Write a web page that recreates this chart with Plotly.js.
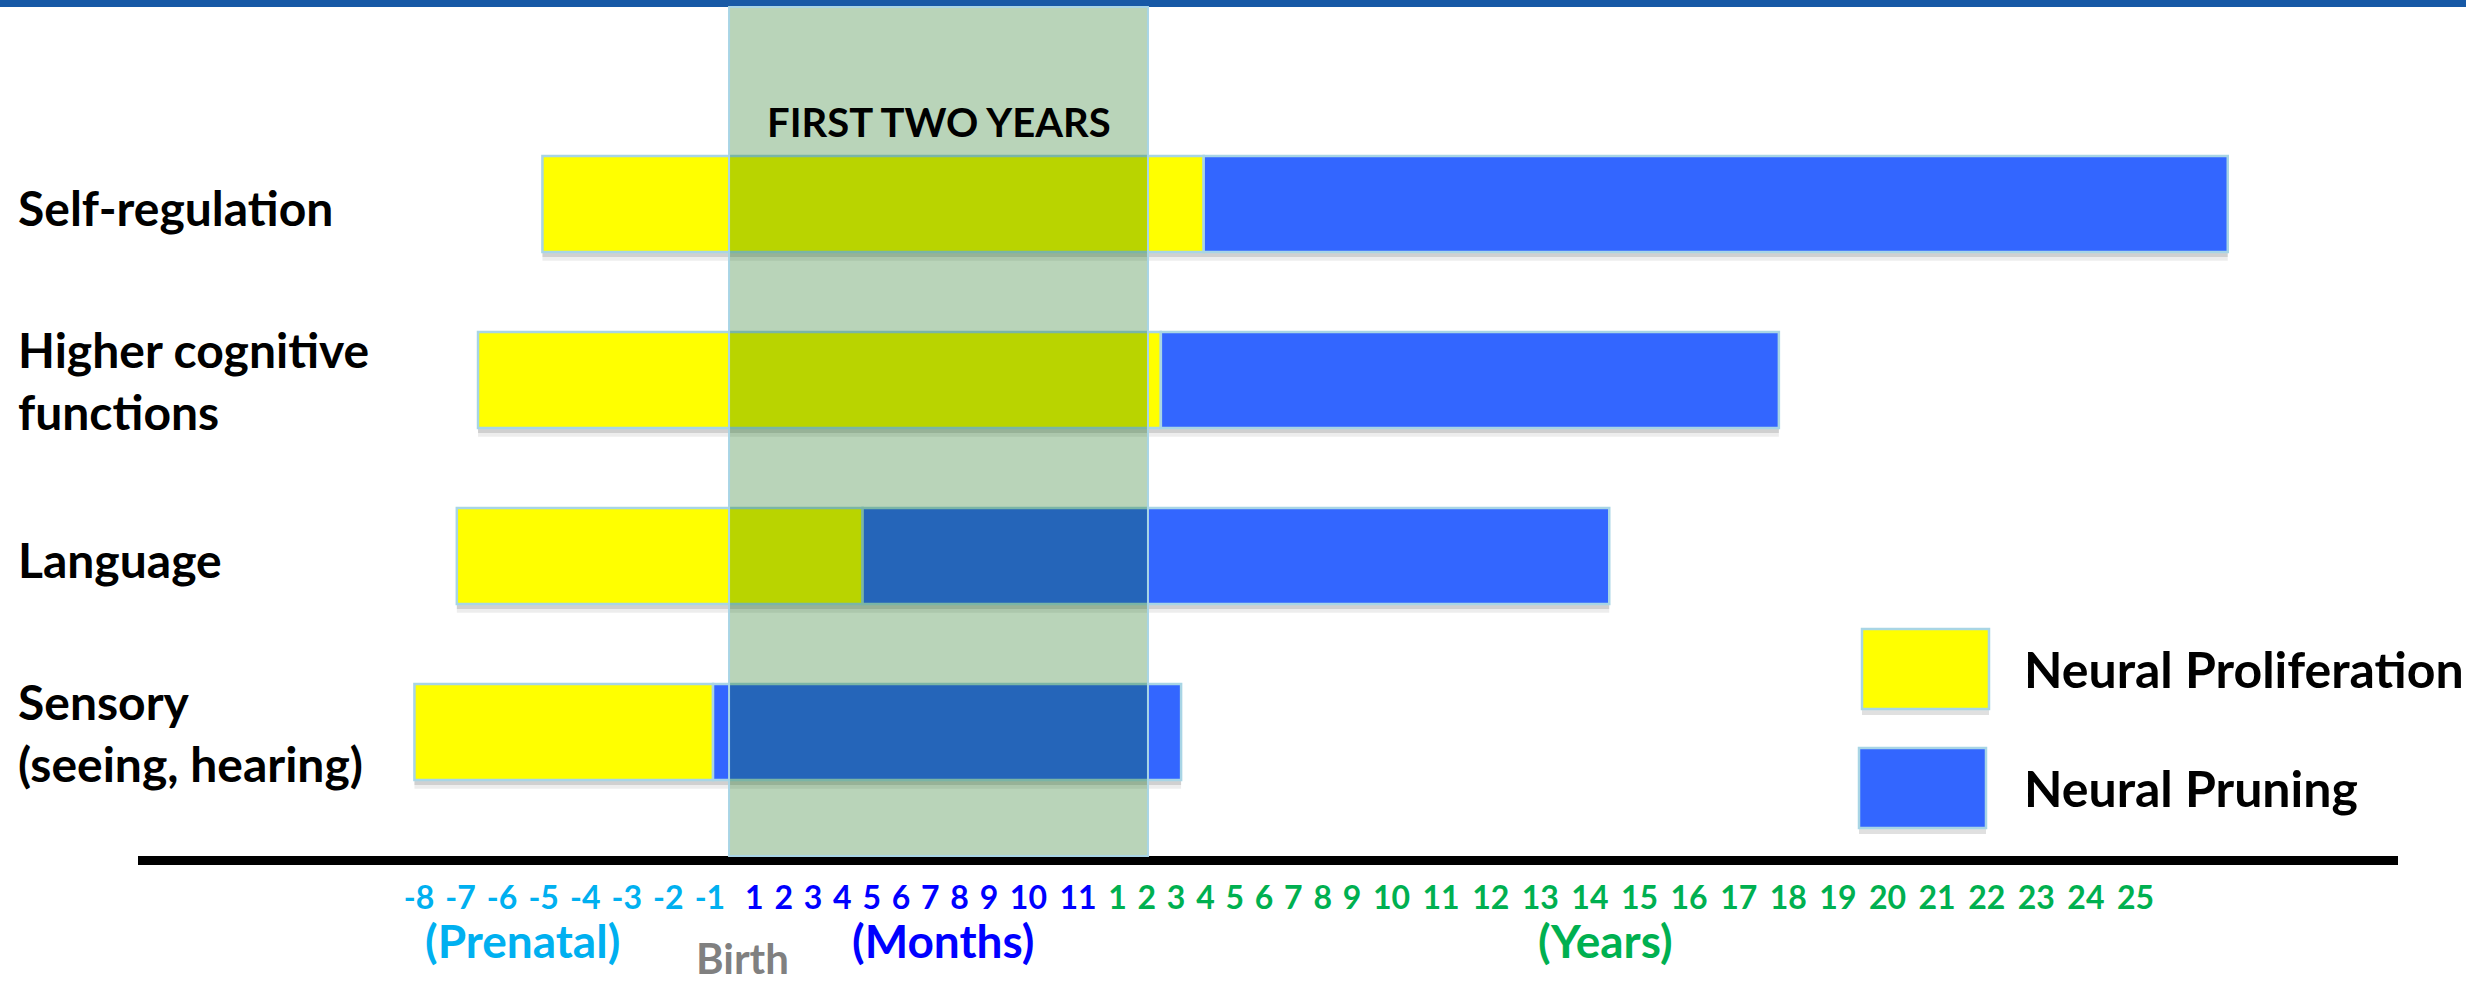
<!DOCTYPE html>
<html>
<head>
<meta charset="utf-8">
<script src="https://cdn.plot.ly/plotly-3.0.1.min.js"></script>
<style>
  html, body { margin: 0; padding: 0; background: #ffffff; }
  #chart { width: 2466px; height: 987px; }
</style>
</head>
<body>
<div id="chart"></div>
<script>
// ---------------- DATA ----------------
const prenatalTicks = ['-8', '-7', '-6', '-5', '-4', '-3', '-2', '-1'];
const monthTicks = ['1', '2', '3', '4', '5', '6', '7', '8', '9', '10', '11'];
const yearTicks = ['1', '2', '3', '4', '5', '6', '7', '8', '9', '10', '11', '12', '13',
                   '14', '15', '16', '17', '18', '19', '20', '21', '22', '23', '24', '25'];
const groupTitles = ['(Prenatal)', '(Months)', '(Years)'];
const birthLabel = 'Birth';

// bottom -> top
const categories = ['Sensory<br>(seeing, hearing)', 'Language', 'Higher cognitive<br>functions', 'Self-regulation'];
const seriesNames = ['Neural Proliferation', 'Neural Pruning'];

// Values in timeline-label units: 0 = '-8' (prenatal month), 8 = month '1', 19 = year '1', 43 = year '25'
const proliferationStart = [-0.11, 0.91, 1.42, 2.97];
const proliferationEnd   = [7.07, 11.69, 20.48, 21.94];
const pruningEnd         = [21.17, 32.39, 35.81, 44.86];
const firstTwoYears      = [7.43, 20.04];
const firstTwoYearsLabel = 'FIRST TWO YEARS';

// ---------------- STYLE ----------------
const FONT = 'Lato, "Open Sans", sans-serif';
const groupColors = ['#00B0F0', '#0000FF', '#00B050'];
const seriesColors = ['#FFFF00', '#3366FF'];
const outlineColor = '#A8D5E5';
// typesetting widths (em) used to space the tick labels like a text row
const GLYPH = { digit: 0.507, minus: 0.306, space: 0.226 };
const groupGap = [0, GLYPH.space, 0];

// ---------------- AXIS BUILD ----------------
const groups = [prenatalTicks, monthTicks, yearTicks];
const tickText = [], tickVals = [];
function labelWidth(s) { let w = 0; for (const c of s) w += (c === '-' ? GLYPH.minus : GLYPH.digit); return w; }
let u = 0, prev = null;
groups.forEach((g, gi) => {
  g.forEach((lab, li) => {
    if (prev !== null) {
      u += labelWidth(prev) / 2 + GLYPH.space + labelWidth(lab) / 2 + (li === 0 ? groupGap[gi] : 0);
    }
    tickVals.push(u);
    tickText.push('<span style="color:' + groupColors[gi] + '">' + lab + '</span>');
    prev = lab;
  });
});
const N = tickVals.length;
function toAxis(t) {
  if (t <= 0) return tickVals[0] + t * (tickVals[1] - tickVals[0]);
  if (t >= N - 1) return tickVals[N - 1] + (t - (N - 1)) * (tickVals[N - 1] - tickVals[N - 2]);
  const i = Math.floor(t), f = t - i;
  return tickVals[i] + f * (tickVals[i + 1] - tickVals[i]);
}

// ---------------- LAYOUT GEOMETRY ----------------
const W = 2466, H = 987;
const M = { l: 138, r: 68, t: 0, b: 131 };
const PW = W - M.l - M.r, PH = H - M.t - M.b;
const px2x = px => (px - M.l) / PW;
const py2y = py => (PH - (py - M.t)) / PH;
const BAR_W = 0.545;

// ---------------- TRACES ----------------
const shadowBase = proliferationStart.map(toAxis);
const shadowLen = pruningEnd.map((e, i) => toAxis(e) - toAxis(proliferationStart[i]));
const traces = [
  { type: 'bar', orientation: 'h', y: categories, base: shadowBase, x: shadowLen,
    width: BAR_W, offset: -BAR_W / 2 - 0.05, marker: { color: 'rgba(0,0,0,0.07)' },
    hoverinfo: 'skip', showlegend: false },
  { type: 'bar', orientation: 'h', y: categories, base: shadowBase, x: shadowLen,
    width: BAR_W, offset: -BAR_W / 2 - 0.028, marker: { color: 'rgba(0,0,0,0.12)' },
    hoverinfo: 'skip', showlegend: false },
  { type: 'bar', orientation: 'h', name: seriesNames[0], y: categories,
    base: proliferationStart.map(toAxis),
    x: proliferationEnd.map((e, i) => toAxis(e) - toAxis(proliferationStart[i])),
    width: BAR_W, marker: { color: seriesColors[0], line: { color: outlineColor, width: 2.5 } } },
  { type: 'bar', orientation: 'h', name: seriesNames[1], y: categories,
    base: proliferationEnd.map(toAxis),
    x: pruningEnd.map((e, i) => toAxis(e) - toAxis(proliferationEnd[i])),
    width: BAR_W, marker: { color: seriesColors[1], line: { color: outlineColor, width: 2.5 } } }
];

// ---------------- ANNOTATIONS ----------------
const annotations = [];
categories.forEach(c => {
  annotations.push({ xref: 'paper', yref: 'y', x: px2x(16), y: c, xanchor: 'left', yanchor: 'middle',
    align: 'left', showarrow: false, text: c, yshift: c.indexOf('<br>') < 0 ? -3 : 0,
    font: { family: FONT, size: 48, color: '#000000', weight: 'bold' } });
});
annotations.push({ xref: 'x', yref: 'paper', x: (toAxis(firstTwoYears[0]) + toAxis(firstTwoYears[1])) / 2,
  y: py2y(122), xanchor: 'center', yanchor: 'middle', showarrow: false, text: firstTwoYearsLabel,
  font: { family: FONT, size: 40, color: '#000000', weight: 'bold' } });
const groupTitlePx = [522, 943, 1605];
groupTitles.forEach((t, i) => {
  annotations.push({ xref: 'paper', yref: 'paper', x: px2x(groupTitlePx[i]), y: py2y(940),
    xanchor: 'center', yanchor: 'middle', showarrow: false, text: t,
    font: { family: FONT, size: 46, color: groupColors[i], weight: 'bold' } });
});
annotations.push({ xref: 'paper', yref: 'paper', x: px2x(742), y: py2y(958),
  xanchor: 'center', yanchor: 'middle', showarrow: false, text: birthLabel,
  font: { family: FONT, size: 42, color: '#808080', weight: 'bold' } });
// custom legend
const legendBoxes = [[1862, 629, 1989, 709], [1859, 748, 1986, 828]];
const legendTextY = [669, 788];
seriesNames.forEach((n, i) => {
  annotations.push({ xref: 'paper', yref: 'paper', x: px2x(2022), y: py2y(legendTextY[i]),
    xanchor: 'left', yanchor: 'middle', showarrow: false, text: n,
    font: { family: FONT, size: 50, color: '#000000', weight: 'bold' } });
});

// ---------------- SHAPES ----------------
const shapes = [
  { type: 'rect', xref: 'paper', yref: 'paper', x0: px2x(0), x1: px2x(W), y0: py2y(7), y1: py2y(0),
    fillcolor: '#1759A6', line: { width: 0 }, layer: 'above' },
  { type: 'rect', xref: 'x', yref: 'paper', x0: toAxis(firstTwoYears[0]), x1: toAxis(firstTwoYears[1]),
    y0: 0, y1: py2y(7), fillcolor: 'rgba(0,98,0,0.275)', line: { color: outlineColor, width: 2 }, layer: 'above' }
];
legendBoxes.forEach((b, i) => {
  shapes.push({ type: 'rect', xref: 'paper', yref: 'paper', x0: px2x(b[0]), x1: px2x(b[2]),
    y0: py2y(b[3] + 6), y1: py2y(b[1] + 6), fillcolor: 'rgba(0,0,0,0.12)', line: { width: 0 }, layer: 'below' });
  shapes.push({ type: 'rect', xref: 'paper', yref: 'paper', x0: px2x(b[0]), x1: px2x(b[2]),
    y0: py2y(b[3]), y1: py2y(b[1]), fillcolor: seriesColors[i], line: { color: outlineColor, width: 2.5 }, layer: 'above' });
});

const layout = {
  width: W, height: H, margin: M,
  paper_bgcolor: '#ffffff', plot_bgcolor: 'rgba(0,0,0,0)',
  barmode: 'overlay', showlegend: false,
  xaxis: {
    range: [(M.l - 419) / 40, (M.l + PW - 419) / 40],
    tickmode: 'array', tickvals: tickVals, ticktext: tickText,
    showgrid: false, zeroline: false, showline: true, linecolor: '#000000', linewidth: 9,
    ticks: '', ticklabelstandoff: 6,
    tickfont: { family: FONT, size: 32, weight: 'bold' }, fixedrange: true
  },
  yaxis: {
    type: 'category', categoryorder: 'array', categoryarray: categories,
    range: [(732 - PH) / 176, 732 / 176],
    showgrid: false, zeroline: false, showline: false, showticklabels: false, ticks: '', fixedrange: true
  },
  annotations: annotations, shapes: shapes
};

Plotly.newPlot('chart', traces, layout, { displayModeBar: false, staticPlot: true });
</script>
</body>
</html>
